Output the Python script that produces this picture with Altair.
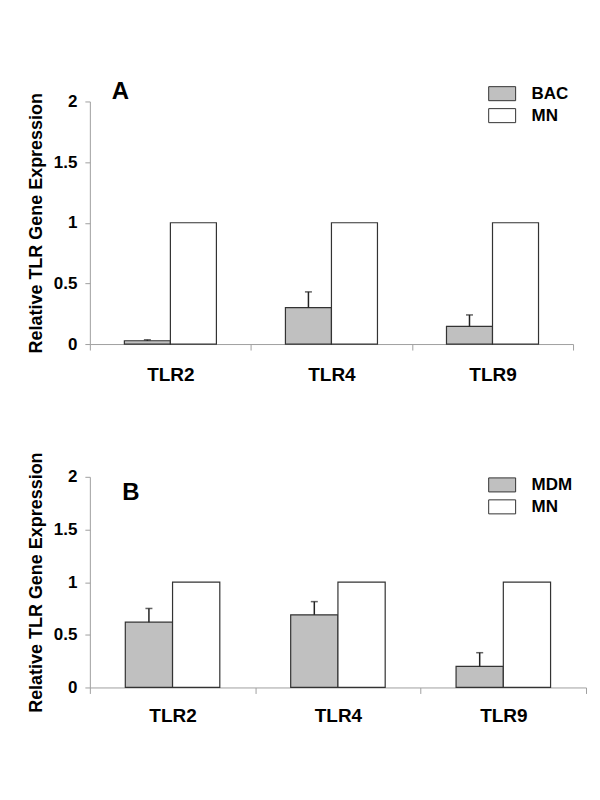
import altair as alt
import pandas as pd

FONT = "Liberation Sans"

genes = ["TLR2", "TLR4", "TLR9"]

# Panel A
a_series = "BAC"
a_values = [0.027, 0.30, 0.146]
a_err = [0.008, 0.13, 0.094]
# Panel B
b_series = "MDM"
b_values = [0.62, 0.69, 0.20]
b_err = [0.13, 0.125, 0.13]
# reference (MN) values
mn_values = [1, 1, 1]

y_ticks = [0, 0.5, 1, 1.5, 2]


def panel(series, vals, errs, letter, w, h, letter_xy, legend_xy, label_pad):
    rows = []
    for g, v, m in zip(genes, vals, mn_values):
        rows.append({"gene": g, "series": series, "value": v})
        rows.append({"gene": g, "series": "MN", "value": m})
    df = pd.DataFrame(rows)
    edf = pd.DataFrame({
        "gene": genes,
        "series": [series] * 3,
        "value": vals,
        "upper": [v + e for v, e in zip(vals, errs)],
    })
    ldf = pd.DataFrame({"t": [letter]})

    x = alt.X(
        "gene:N", sort=genes,
        scale=alt.Scale(paddingInner=0, paddingOuter=0),
        axis=alt.Axis(
            title=None, tickBand="extent", labelAngle=0,
            labelFont=FONT, labelFontSize=19, labelFontWeight="bold",
            labelColor="black", labelPadding=label_pad,
            domainColor="#a0a0a0", tickColor="#a0a0a0", tickSize=6,
        ),
    )
    xo = alt.XOffset(
        "series:N", sort=[series, "MN"],
        scale=alt.Scale(domain=[series, "MN"], paddingOuter=0.75, paddingInner=0),
    )
    y = alt.Y(
        "value:Q",
        scale=alt.Scale(domain=[0, 2], nice=False),
        axis=alt.Axis(
            title="Relative TLR Gene Expression", values=y_ticks, format="~g",
            titleFont=FONT, titleFontSize=18, titleFontWeight="bold",
            titleColor="black", titlePadding=8,
            labelFont=FONT, labelFontSize=17, labelFontWeight="bold",
            labelColor="black", labelPadding=8,
            domainColor="#a0a0a0", tickColor="#a0a0a0", tickSize=5,
            grid=False,
        ),
    )
    color = alt.Color(
        "series:N",
        scale=alt.Scale(domain=[series, "MN"], range=["#c0c0c0", "#ffffff"]),
        legend=alt.Legend(
            title=None, orient="none",
            legendX=legend_xy[0], legendY=legend_xy[1],
            symbolType="M-1.5,-0.78H1.5V0.78H-1.5Z", symbolSize=324,
            symbolStrokeColor="#333333", symbolStrokeWidth=1,
            symbolOpacity=1,
            labelFont=FONT, labelFontSize=17, labelFontWeight="bold",
            labelColor="black", labelOffset=20, rowPadding=3, padding=0,
        ),
    )
    bars = alt.Chart(df).mark_bar(stroke="#333333", strokeWidth=1.2, opacity=1).encode(
        x=x, xOffset=xo, y=y, color=color
    )
    rule = alt.Chart(edf).mark_rule(color="#222222", strokeWidth=1.5).encode(
        x=alt.X("gene:N", sort=genes), xOffset=xo,
        y=alt.Y("value:Q"), y2="upper:Q",
    )
    cap = alt.Chart(edf).mark_tick(
        color="#222222", orient="horizontal", size=7, thickness=1.5
    ).encode(
        x=alt.X("gene:N", sort=genes), xOffset=xo, y=alt.Y("upper:Q"),
    )
    txt = alt.Chart(ldf).mark_text(
        font=FONT, fontSize=24, fontWeight="bold", align="center",
        baseline="middle", color="black",
    ).encode(x=alt.value(letter_xy[0]), y=alt.value(letter_xy[1]), text="t:N")
    return alt.layer(bars, rule, cap, txt).properties(width=w, height=h)


pa = panel(a_series, a_values, a_err, "A", 484, 243, (30.5, -9), (403.5, -17.3), 16)
pb = panel(b_series, b_values, b_err, "B", 497, 211, (41, 16.5), (403.5, -1.4), 13)

chart = alt.vconcat(pa, pb, spacing=66).resolve_scale(
    color="independent", x="independent", y="independent", xOffset="independent"
).resolve_legend(color="independent").properties(
    padding={"left": 19, "top": 72, "right": 5, "bottom": 5}
).configure_view(stroke=None)

chart.save("out.html", embed_options={"renderer": "svg", "actions": False})
